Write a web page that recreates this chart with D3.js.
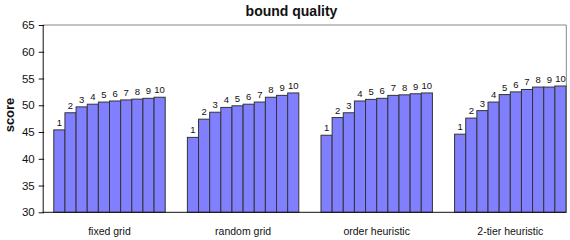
<!DOCTYPE html>
<html lang="en">
  <head>
    <meta charset="UTF-8" />
    <title>bound quality</title>
    <script src="https://d3js.org/d3.v7.min.js"></script>
    <style>
      body { margin: 0; background: #fff; }
      text { font-family: "Liberation Sans", Arial, sans-serif; fill: #111; }
    </style>
  </head>
  <body>
    <div id="chart"></div>
    <script>
      const groups = ["fixed grid", "random grid", "order heuristic", "2-tier heuristic"];
      const runs = ["1", "2", "3", "4", "5", "6", "7", "8", "9", "10"];
      const fixedGrid = [45.4, 48.6, 49.7, 50.2, 50.6, 50.8, 51.0, 51.15, 51.3, 51.5];
      const randomGrid = [44.0, 47.4, 48.7, 49.6, 49.9, 50.2, 50.6, 51.5, 51.85, 52.3];
      const orderHeuristic = [44.4, 47.7, 48.6, 50.8, 51.1, 51.3, 51.85, 51.95, 52.15, 52.3];
      const twoTier = [44.6, 47.6, 49.0, 50.6, 52.0, 52.5, 52.95, 53.4, 53.4, 53.6];
      const yTicks = [30, 35, 40, 45, 50, 55, 60, 65];

      const series = [fixedGrid, randomGrid, orderHeuristic, twoTier];

      const width = 570, height = 240;
      const plotLeft = 42.7, plotTop = 25, plotBottom = 212.3, frameRight = 566.3;

      const svg = d3.select("#chart").append("svg")
        .attr("width", width).attr("height", height);

      const x = d3.scaleBand().domain(groups)
        .range([plotLeft, plotLeft + 4 * 133.6])
        .paddingInner(0.166).paddingOuter(0.083);
      const xi = d3.scaleBand().domain(runs).range([0, x.bandwidth()]);
      const y = d3.scaleLinear().domain([30, 65]).range([plotBottom, plotTop]);

      // frame (top and right)
      svg.append("path")
        .attr("d", `M${plotLeft},${plotTop}H${frameRight}V${plotBottom}`)
        .attr("fill", "none").attr("stroke", "#888").attr("stroke-width", 1);

      const g = svg.selectAll(".grp").data(groups).enter().append("g")
        .attr("class", "grp")
        .attr("transform", d => `translate(${x(d)},0)`);

      g.selectAll("rect").data((d, i) => series[i]).enter().append("rect")
        .attr("x", (d, j) => xi(runs[j]))
        .attr("y", d => y(d))
        .attr("width", xi.bandwidth())
        .attr("height", d => plotBottom - y(d))
        .attr("fill", "#8080ff")
        .attr("stroke", "#333")
        .attr("stroke-width", 1);

      g.selectAll("text").data((d, i) => series[i]).enter().append("text")
        .attr("x", (d, j) => xi(runs[j]) + xi.bandwidth() / 2)
        .attr("y", d => y(d) - 4)
        .attr("text-anchor", "middle")
        .style("font-size", "9.5px")
        .text((d, j) => runs[j]);

      // y axis
      const yAxis = svg.append("g")
        .attr("transform", `translate(${plotLeft},0)`)
        .call(d3.axisLeft(y).tickValues(yTicks).tickSize(4).tickSizeOuter(0));
      yAxis.select(".domain").attr("stroke", "#111");
      yAxis.selectAll(".tick line").attr("stroke", "#111").attr("x2", 1.5).attr("x1", -4);
      yAxis.selectAll(".tick text").attr("x", -8)
        .style("font-size", "11.5px").style("font-family", "Liberation Sans, Arial, sans-serif");

      // x axis line
      svg.append("line")
        .attr("x1", plotLeft).attr("x2", frameRight)
        .attr("y1", plotBottom).attr("y2", plotBottom)
        .attr("stroke", "#111");

      svg.selectAll(".cat").data(groups).enter().append("text")
        .attr("class", "cat")
        .attr("x", d => x(d) + x.bandwidth() / 2)
        .attr("y", 235)
        .attr("text-anchor", "middle")
        .style("font-size", "10.5px")
        .text(d => d);

      svg.append("text")
        .attr("x", 291.5).attr("y", 16)
        .attr("text-anchor", "middle")
        .style("font-size", "14px").style("font-weight", "bold")
        .text("bound quality");

      svg.append("text")
        .attr("transform", "translate(14,115) rotate(-90)")
        .attr("text-anchor", "middle")
        .style("font-size", "13px").style("font-weight", "bold")
        .text("score");
    </script>
  </body>
</html>
